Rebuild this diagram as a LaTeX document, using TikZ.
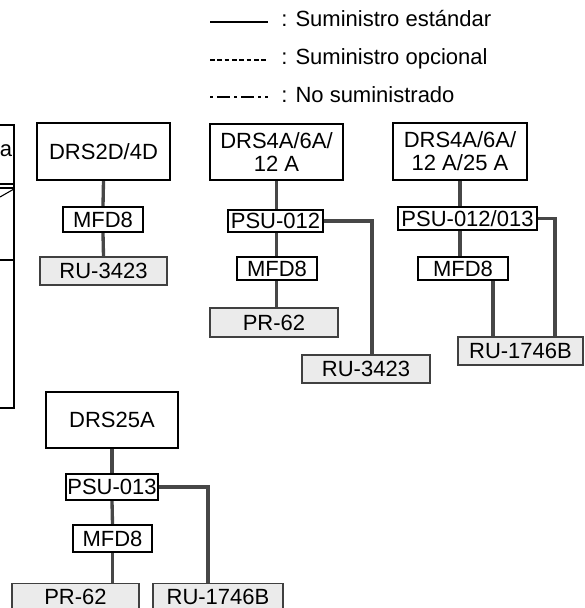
\documentclass[tikz,border=0pt]{standalone}
\usepackage{fontspec}
\setmainfont{Liberation Sans}
\begin{document}
\begin{tikzpicture}[x=0.75pt,y=-0.75pt,
  every node/.style={font=\fontsize{16.5}{17.25}\selectfont, inner sep=0pt},
  topbox/.style 2 args={draw=black, line width=1.6pt, fill=white, align=center,
    minimum width=#1*0.75pt, minimum height=#2*0.75pt},
  midbox/.style 2 args={draw=black, line width=1.6pt, fill=white,
    minimum width=#1*0.75pt, minimum height=#2*0.75pt},
  endbox/.style 2 args={draw=black!75, line width=1.1pt, fill=black!8,
    minimum width=#1*0.75pt, minimum height=#2*0.75pt},
  conn/.style={draw=black!72, line width=2.5pt},
  leg/.style={line width=1pt, black},
  legtext/.style={anchor=base west}
]
\useasboundingbox (0,0) rectangle (585,608);
\clip (0,0) rectangle (585,608);

% bend points
\coordinate (k1) at (372,0);
\coordinate (k2) at (493,0);
\coordinate (k3) at (555,0);
\coordinate (k4) at (208,0);
\coordinate (v3) at (460,0);

% legend
\coordinate (l1a) at (210,22); \coordinate (l1b) at (268,22);
\coordinate (l2a) at (210,60); \coordinate (l2b) at (268,60);
\coordinate (l3a) at (210,97); \coordinate (l3b) at (268,97);
\draw[leg] (l1a) -- (l1b);
\draw[leg, dash pattern=on 3.6pt off 1.9pt] (l2a) -- (l2b);
\draw[leg, dash pattern=on 2.25pt off 3pt on 9.75pt off 3pt on 2.25pt off 3pt on 9.75pt off 3pt on 2.25pt off 3pt on 2.25pt off 20pt] (l3a) -- (l3b);
\node[legtext] (t1) at (281,26) {: Suministro estándar};
\node[legtext] (t2) at (281,64) {: Suministro opcional};
\node[legtext] (t3) at (281,102) {: No suministrado};

% partial box at left edge
\draw[line width=0.8pt] (-5,125) -- (14,125) -- (14,408) -- (-5,408);
\draw[line width=0.8pt] (-5,184) -- (14,184);
\draw[line width=0.8pt] (-5,188) -- (14,188);
\draw[line width=0.8pt] (0,197) -- (14,189);
\draw[line width=0.8pt] (-5,260) -- (14,260);
\node[anchor=base east] (pa) at (12.5,156) {a};

% group 1
\node[topbox={133}{57}] (drs1) at (103.5,151.5) {DRS2D/4D};
\node[midbox={80}{25}] (mfd1) at (103,219.5) {MFD8};
\node[endbox={127}{28}] (ru1) at (103.5,271) {RU-3423};

% group 2
\node[topbox={133}{56}] (drs2) at (276.5,152) {DRS4A/6A/\\12 A};
\node[midbox={95}{22}] (psu2) at (275.5,221) {PSU-012};
\node[midbox={80}{23}] (mfd2) at (277,268.5) {MFD8};
\node[endbox={128}{29}] (pr2) at (274,322.5) {PR-62};
\node[endbox={128}{28}] (ru2) at (366,369) {RU-3423};

% group 3
\node[topbox={134}{57}] (drs3) at (460,151.5) {DRS4A/6A/\\12 A/25 A};
\node[midbox={139}{23}] (psu3) at (467.5,218.5) {PSU-012/013};
\node[midbox={90}{23}] (mfd3) at (463,268.5) {MFD8};
\node[endbox={125}{28}] (ru3) at (520.5,351) {RU-1746B};

% group 4
\node[topbox={132}{56}] (drs4) at (112,420) {DRS25A};
\node[midbox={92}{26}] (psu4) at (112,487) {PSU-013};
\node[midbox={79}{27}] (mfd4) at (112.5,538.5) {MFD8};
\node[endbox={127}{30}] (pr4) at (75.5,598.5) {\raisebox{2.5pt}{PR-62}};
\node[endbox={130}{30}] (ru4) at (218,598.5) {\raisebox{2.5pt}{RU-1746B}};

% connectors
\draw[conn] (drs1.south) -- (mfd1.north);
\draw[conn] (mfd1.south) -- (ru1.north);

\draw[conn] (drs2.south) -- (drs2.south |- psu2.north);
\draw[conn] (drs2.south |- psu2.south) -- (drs2.south |- mfd2.north);
\draw[conn] (drs2.south |- mfd2.south) -- (drs2.south |- pr2.north);
\draw[conn] (psu2.east) -| (k1 |- ru2.north);

\draw[conn] (v3 |- drs3.south) -- (v3 |- psu3.north);
\draw[conn] (v3 |- psu3.south) -- (v3 |- mfd3.north);
\draw[conn] (k2 |- mfd3.south) -- (k2 |- ru3.north);
\draw[conn] (psu3.east) -| (k3 |- ru3.north);

\draw[conn] (drs4.south) -- (psu4.north);
\draw[conn] (psu4.south) -- (mfd4.north);
\draw[conn] (mfd4.south) -- (mfd4.south |- pr4.north);
\draw[conn] (psu4.east) -| (k4 |- ru4.north);
\end{tikzpicture}
\end{document}
